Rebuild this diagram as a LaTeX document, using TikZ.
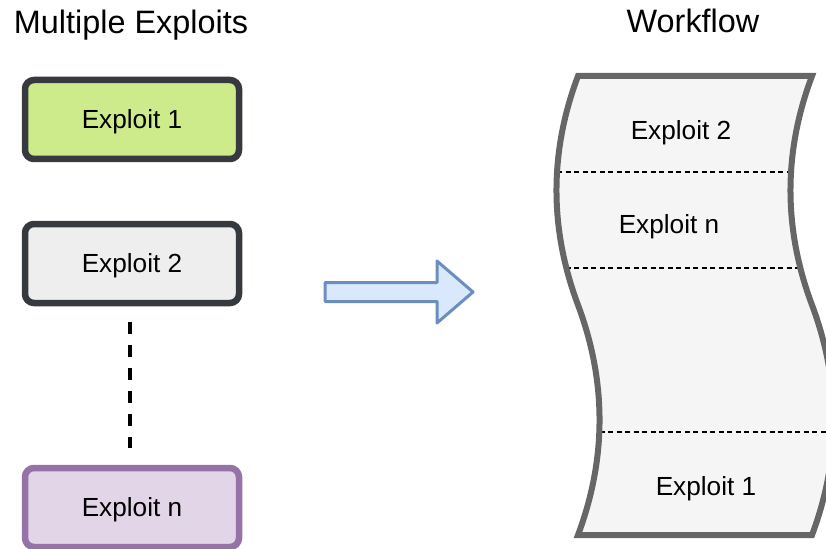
\documentclass[tikz,border=0pt]{standalone}
\usepackage{fontspec}
\setmainfont{Liberation Sans}
\begin{document}
\begin{tikzpicture}[x=1pt,y=-1pt,
  exbox/.style={draw=boxline, line width=6.5pt, rounded corners=9pt,
    minimum width=214pt, minimum height=79pt, inner sep=0pt,
    text height=18pt, text depth=0pt, font=\fontsize{26.2}{30}\selectfont},
  title/.style={anchor=base, font=\fontsize{32.4}{38}\selectfont},
  tapelabel/.style={anchor=base, font=\fontsize{26.2}{30}\selectfont},
  sep/.style={dashed, dash pattern=on 5pt off 3.5pt, line width=1.3pt}]
\definecolor{boxline}{HTML}{36393D}
\definecolor{greenfill}{HTML}{CDEB8B}
\definecolor{greyfill}{HTML}{EEEEEE}
\definecolor{purpleline}{HTML}{9673A6}
\definecolor{purplefill}{HTML}{E1D5E7}
\definecolor{tapeline}{HTML}{666666}
\definecolor{tapefill}{HTML}{F5F5F5}
\definecolor{arrowline}{HTML}{6C8EBF}
\definecolor{arrowfill}{HTML}{DAE8FC}

\useasboundingbox (0,0) rectangle (826,548);

% headings
\node[title] (tleft) at (131,34) {Multiple Exploits};
\node[title] (tright) at (693,33) {Workflow};

% the separate exploits
\node[exbox, fill=greenfill] (e1) at (132,119.5) {Exploit 1};
\node[exbox, fill=greyfill] (e2) at (132,263.5) {Exploit 2};
\node[exbox, draw=purpleline, fill=purplefill] (en) at (132,507.5) {Exploit n};

% ellipsis between exploit 2 and exploit n
\coordinate (dtop) at (130,322);
\coordinate (dbot) at (130,448);
\draw[line width=4pt, dash pattern=on 11.5pt off 11.5pt] (dtop) -- (dbot);

% block arrow
\draw[line width=3pt, draw=arrowline, fill=arrowfill, line join=round]
  (325,282.5) -- (437,282.5) -- (437,261) -- (473,292) -- (437,323)
  -- (437,301.5) -- (325,301.5) -- cycle;

% the workflow tape
\def\tapepath{(578,76) -- (812,76)
  .. controls (783.3,152) and (783.3,228.7) .. (812,305)
  .. controls (840.7,381.7) and (840.7,458.3) .. (812,535)
  -- (578,535)
  .. controls (606.7,458.3) and (606.7,381.7) .. (578,305)
  .. controls (549.3,228.7) and (549.3,152) .. (578,76) -- cycle}
\fill[tapefill] \tapepath;
\begin{scope}
  \clip \tapepath;
  \draw[sep] (540,172) -- (860,172);
  \draw[sep] (540,268) -- (860,268);
  \draw[sep] (540,432) -- (860,432);
\end{scope}
\draw[tapeline, line width=6pt, line join=miter] \tapepath;

\node[tapelabel] (w2) at (681,140) {Exploit 2};
\node[tapelabel] (wn) at (669,233) {Exploit n};
\node[tapelabel] (w1) at (706,495) {Exploit 1};
\end{tikzpicture}
\end{document}
